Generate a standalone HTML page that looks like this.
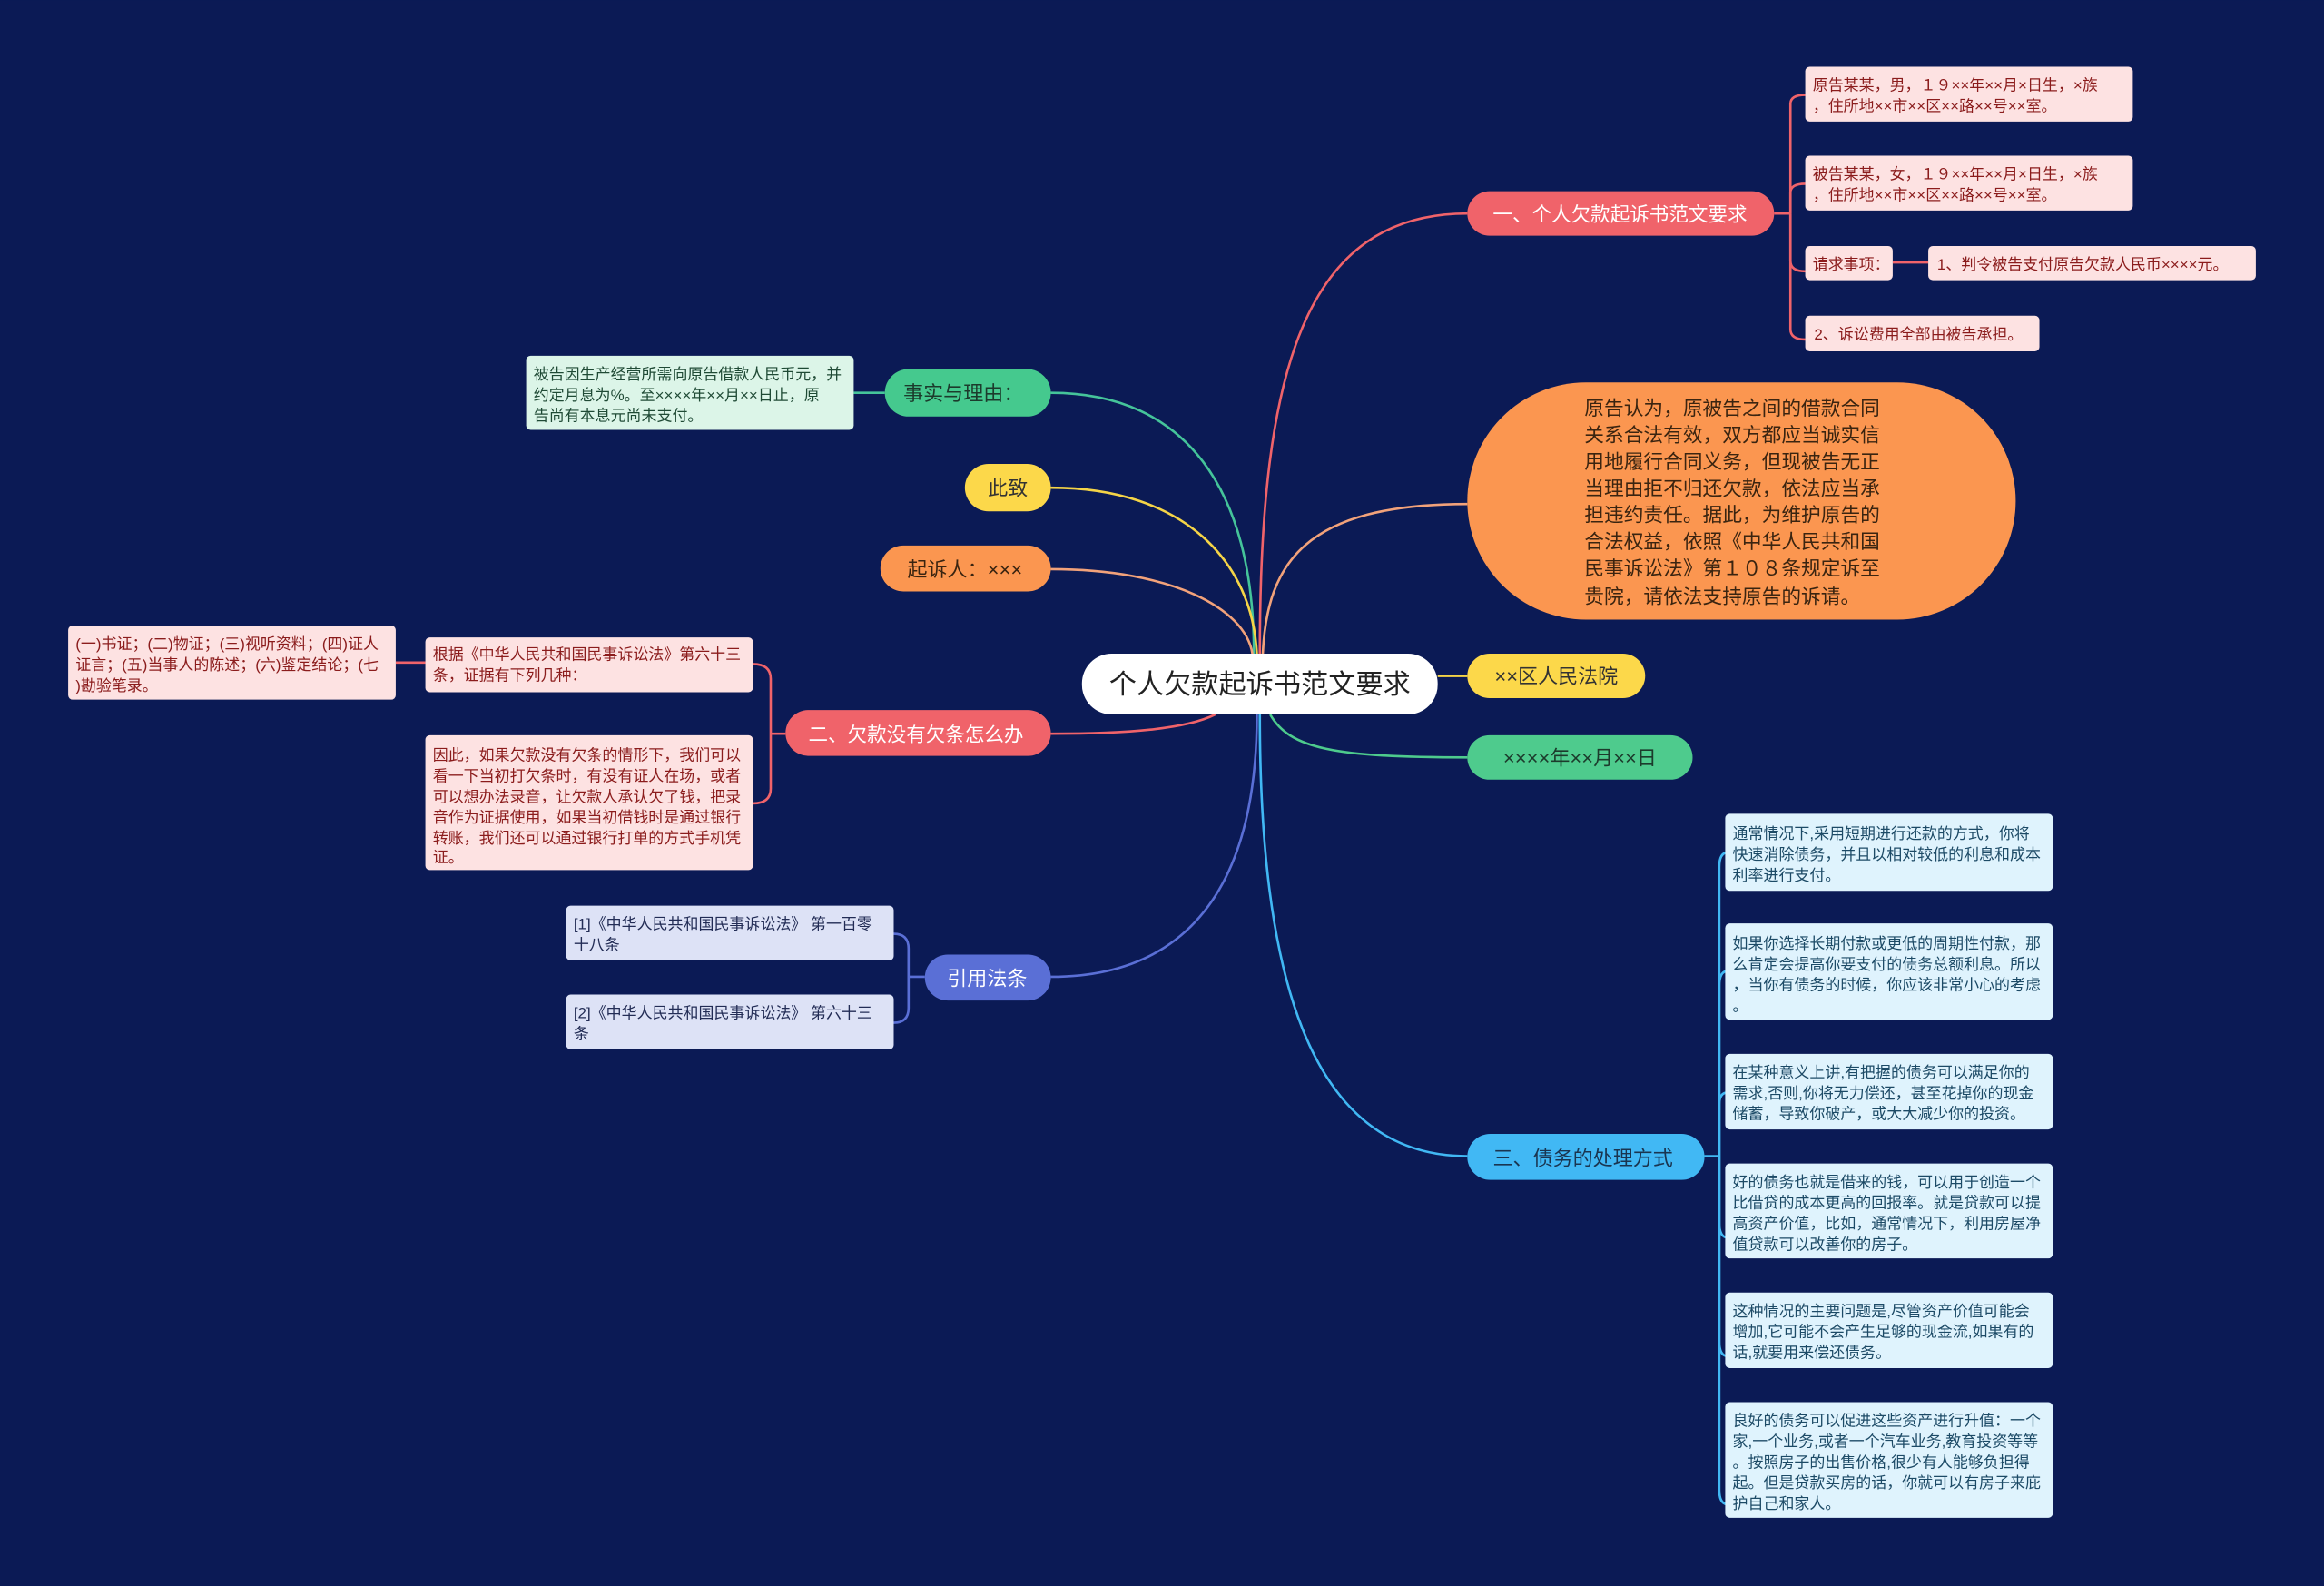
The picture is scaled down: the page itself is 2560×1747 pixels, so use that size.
<!DOCTYPE html>
<html><head><meta charset="utf-8">
<style>
html,body{margin:0;padding:0;background:#0b1a55;}
svg{display:block;}
text{font-family:"Liberation Sans","Noto Sans CJK SC",sans-serif;}
</style></head>
<body>
<svg width="2560" height="1747" viewBox="0 0 1568 1070" xmlns="http://www.w3.org/2000/svg">
<rect width="1568" height="1070" fill="#0b1a55"/>
<g fill="none" stroke-width="1.6">
<path d="M850 441 C850 250 880 144 990 144" stroke="#f0636a"/>
<path d="M852 441 C855 380 880 340 990 340" stroke="#f2a27a"/>
<path d="M970 456 L990 456" stroke="#f5d447"/>
<path d="M857 482 C870 505 900 511 990 511" stroke="#4ecb8d"/>
<path d="M850 482 C850 650 880 780 990 780" stroke="#41b8f4"/>
<path d="M846 441 C846 330 800 265 709 265" stroke="#45c49a"/>
<path d="M848 441 C845 380 800 329 709 329" stroke="#f5d447"/>
<path d="M845 441 C840 410 790 384 709 384" stroke="#f2a27a"/>
<path d="M820 482 C800 492 760 495 709 495" stroke="#f0636a"/>
<path d="M848 482 C848 600 800 659 709 659" stroke="#5a6fd6"/>
<g stroke="#f0636a">
<path d="M1197 144 L1208 144"/>
<path d="M1208 144 L1208 70 Q1208 64 1218 64"/>
<path d="M1208 144 L1208 130 Q1208 124 1218 124"/>
<path d="M1208 144 L1208 176 Q1208 183 1218 183"/>
<path d="M1208 144 L1208 222 Q1208 229 1218 229"/>
<path d="M1277 177 L1301 177"/>
</g>
<g stroke="#41b8f4">
<path d="M1150 780 L1160 780"/>
<path d="M1160 780 L1160 585 Q1160 575 1166 575"/>
<path d="M1160 780 L1160 665 Q1160 655 1166 655"/>
<path d="M1160 780 L1160 745 Q1160 737 1166 737"/>
<path d="M1160 780 L1160 825 Q1160 835 1166 835"/>
<path d="M1160 780 L1160 905 Q1160 915 1166 915"/>
<path d="M1160 780 L1160 1005 Q1160 1015 1166 1015"/>
</g>
<path d="M597 265 L576 265" stroke="#45c49a"/>
<g stroke="#f0636a">
<path d="M530 495 L520 495"/>
<path d="M520 495 L520 458 Q520 448 508 448"/>
<path d="M520 495 L520 532 Q520 542 508 542"/>
<path d="M287 447 L267 447"/>
</g>
<g stroke="#5a6fd6">
<path d="M624 659 L613 659"/>
<path d="M613 659 L613 640 Q613 630 603 630"/>
<path d="M613 659 L613 680 Q613 690 603 690"/>
</g>
</g>

<rect x="730" y="441" width="240" height="41" rx="20" fill="#ffffff"/>
<text x="850" y="468" font-size="18.5" fill="#222" text-anchor="middle">个人欠款起诉书范文要求</text>

<rect x="990" y="129" width="207" height="30" rx="15" fill="#f0636a"/>
<text x="1093" y="149" font-size="13.2" fill="#fff" text-anchor="middle">一、个人欠款起诉书范文要求</text>
<g font-size="10.4" fill="#8b1c1c">
<rect x="1218" y="45" width="221" height="37" rx="3" fill="#fde2e2"/>
<text x="1223" y="61">原告某某，男，１９××年××月×日生，×族</text>
<text x="1223" y="75">，住所地××市××区××路××号××室。</text>
<rect x="1218" y="105" width="221" height="37" rx="3" fill="#fde2e2"/>
<text x="1223" y="121">被告某某，女，１９××年××月×日生，×族</text>
<text x="1223" y="135">，住所地××市××区××路××号××室。</text>
<rect x="1218" y="166" width="59" height="23" rx="3" fill="#fde2e2"/>
<text x="1223" y="182">请求事项：</text>
<rect x="1301" y="166" width="221" height="23" rx="3" fill="#fde2e2"/>
<text x="1307" y="182">1、判令被告支付原告欠款人民币××××元。</text>
<rect x="1218" y="213" width="158" height="24" rx="3" fill="#fde2e2"/>
<text x="1224" y="229">2、诉讼费用全部由被告承担。</text>
</g>

<rect x="990" y="258" width="370" height="160" rx="80" fill="#fb9650"/>
<g font-size="13.3" fill="#3a2410">
<text x="1069" y="280">原告认为，原被告之间的借款合同</text>
<text x="1069" y="298">关系合法有效，双方都应当诚实信</text>
<text x="1069" y="316">用地履行合同义务，但现被告无正</text>
<text x="1069" y="334">当理由拒不归还欠款，依法应当承</text>
<text x="1069" y="352">担违约责任。据此，为维护原告的</text>
<text x="1069" y="370">合法权益，依照《中华人民共和国</text>
<text x="1069" y="388">民事诉讼法》第１０８条规定诉至</text>
<text x="1069" y="407">贵院，请依法支持原告的诉请。</text>
</g>

<rect x="990" y="441" width="120" height="30" rx="15" fill="#fcd84a"/>
<text x="1050" y="461" font-size="13.5" fill="#333" text-anchor="middle">××区人民法院</text>
<rect x="990" y="496" width="152" height="30" rx="15" fill="#4ecb8d"/>
<text x="1066" y="516" font-size="13.5" fill="#1c3b2c" text-anchor="middle">××××年××月××日</text>

<rect x="990" y="765" width="160" height="31" rx="15.5" fill="#41b8f4"/>
<text x="1068" y="786" font-size="13.5" fill="#1a3550" text-anchor="middle">三、债务的处理方式</text>
<g font-size="10.4" fill="#1c4a66">
<rect x="1164" y="549" width="221" height="52" rx="3" fill="#dff3fd"/>
<text x="1169" y="566">通常情况下,采用短期进行还款的方式，你将</text>
<text x="1169" y="580">快速消除债务，并且以相对较低的利息和成本</text>
<text x="1169" y="594">利率进行支付。</text>
<rect x="1164" y="623" width="221" height="65" rx="3" fill="#dff3fd"/>
<text x="1169" y="640">如果你选择长期付款或更低的周期性付款，那</text>
<text x="1169" y="654">么肯定会提高你要支付的债务总额利息。所以</text>
<text x="1169" y="668">，当你有债务的时候，你应该非常小心的考虑</text>
<text x="1169" y="682">。</text>
<rect x="1164" y="711" width="221" height="51" rx="3" fill="#dff3fd"/>
<text x="1169" y="727">在某种意义上讲,有把握的债务可以满足你的</text>
<text x="1169" y="741">需求,否则,你将无力偿还，甚至花掉你的现金</text>
<text x="1169" y="755">储蓄，导致你破产，或大大减少你的投资。</text>
<rect x="1164" y="785" width="221" height="64" rx="3" fill="#dff3fd"/>
<text x="1169" y="801">好的债务也就是借来的钱，可以用于创造一个</text>
<text x="1169" y="815">比借贷的成本更高的回报率。就是贷款可以提</text>
<text x="1169" y="829">高资产价值，比如，通常情况下，利用房屋净</text>
<text x="1169" y="843">值贷款可以改善你的房子。</text>
<rect x="1164" y="872" width="221" height="51" rx="3" fill="#dff3fd"/>
<text x="1169" y="888">这种情况的主要问题是,尽管资产价值可能会</text>
<text x="1169" y="902">增加,它可能不会产生足够的现金流,如果有的</text>
<text x="1169" y="916">话,就要用来偿还债务。</text>
<rect x="1164" y="946" width="221" height="78" rx="3" fill="#dff3fd"/>
<text x="1169" y="962">良好的债务可以促进这些资产进行升值：一个</text>
<text x="1169" y="976">家,一个业务,或者一个汽车业务,教育投资等等</text>
<text x="1169" y="990">。按照房子的出售价格,很少有人能够负担得</text>
<text x="1169" y="1004">起。但是贷款买房的话，你就可以有房子来庇</text>
<text x="1169" y="1018">护自己和家人。</text>
</g>

<rect x="597" y="249" width="112" height="32" rx="16" fill="#45c98e"/>
<text x="650" y="270" font-size="13.5" fill="#1c3b2c" text-anchor="middle">事实与理由：</text>
<rect x="355" y="240" width="221" height="50" rx="3" fill="#dcf5e8"/>
<g font-size="10.4" fill="#1f4a35">
<text x="360" y="256">被告因生产经营所需向原告借款人民币元，并</text>
<text x="360" y="270">约定月息为%。至××××年××月××日止，原</text>
<text x="360" y="284">告尚有本息元尚未支付。</text>
</g>
<rect x="651" y="313" width="58" height="32" rx="16" fill="#fcd84a"/>
<text x="680" y="334" font-size="13.5" fill="#333" text-anchor="middle">此致</text>
<rect x="594" y="368" width="115" height="31" rx="15.5" fill="#fb9650"/>
<text x="651" y="389" font-size="13.5" fill="#3a2410" text-anchor="middle">起诉人：×××</text>

<rect x="530" y="479" width="179" height="31" rx="15.5" fill="#f0636a"/>
<text x="618" y="500" font-size="13.2" fill="#fff" text-anchor="middle">二、欠款没有欠条怎么办</text>
<g font-size="10.4" fill="#8b1c1c">
<rect x="287" y="430" width="221" height="37" rx="3" fill="#fde2e2"/>
<text x="292" y="445">根据《中华人民共和国民事诉讼法》第六十三</text>
<text x="292" y="459">条，证据有下列几种：</text>
<rect x="287" y="496" width="221" height="91" rx="3" fill="#fde2e2"/>
<text x="292" y="513">因此，如果欠款没有欠条的情形下，我们可以</text>
<text x="292" y="527">看一下当初打欠条时，有没有证人在场，或者</text>
<text x="292" y="541">可以想办法录音，让欠款人承认欠了钱，把录</text>
<text x="292" y="555">音作为证据使用，如果当初借钱时是通过银行</text>
<text x="292" y="569">转账，我们还可以通过银行打单的方式手机凭</text>
<text x="292" y="582">证。</text>
<rect x="46" y="422" width="221" height="50" rx="3" fill="#fde2e2"/>
<text x="51" y="438">(一)书证；(二)物证；(三)视听资料；(四)证人</text>
<text x="51" y="452">证言；(五)当事人的陈述；(六)鉴定结论；(七</text>
<text x="51" y="466">)勘验笔录。</text>
</g>

<rect x="624" y="644" width="85" height="31" rx="15.5" fill="#5a6fd6"/>
<text x="666" y="665" font-size="13.5" fill="#fff" text-anchor="middle">引用法条</text>
<g font-size="10.4" fill="#222c55">
<rect x="382" y="611" width="221" height="37" rx="3" fill="#dde2f6"/>
<text x="387" y="627">[1]《中华人民共和国民事诉讼法》 第一百零</text>
<text x="387" y="641">十八条</text>
<rect x="382" y="671" width="221" height="37" rx="3" fill="#dde2f6"/>
<text x="387" y="687">[2]《中华人民共和国民事诉讼法》 第六十三</text>
<text x="387" y="701">条</text>
</g>
</svg>
</body></html>
